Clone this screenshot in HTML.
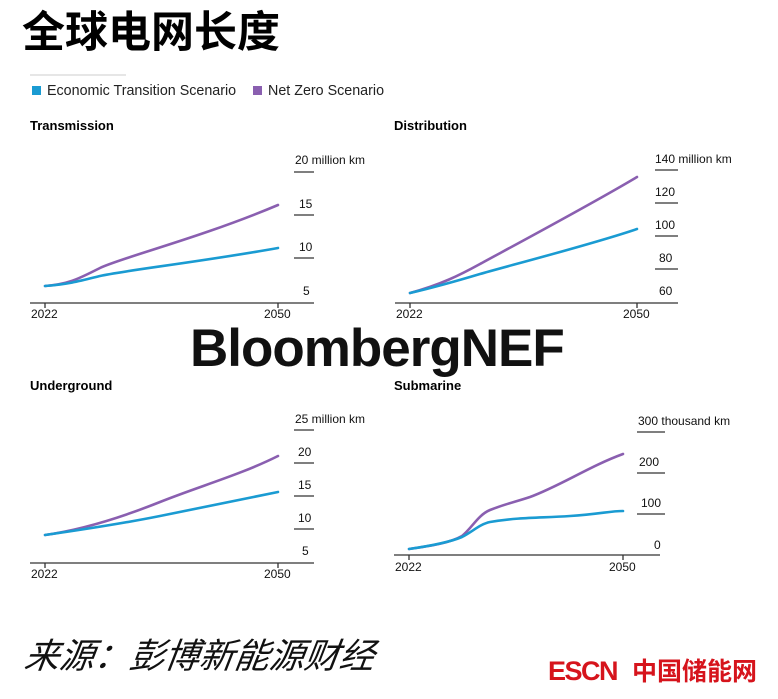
<!DOCTYPE html>
<html><head><meta charset="utf-8"><style>
body{margin:0;width:778px;height:699px;background:#fff;overflow:hidden;position:relative;font-family:"Liberation Sans","Noto Sans CJK SC",sans-serif;}
</style></head><body>
<svg width="778" height="699" style="position:absolute;left:0;top:0" font-family="Liberation Sans, Noto Sans CJK SC, sans-serif">
<text x="22" y="47" font-size="43" font-weight="bold" fill="#000" font-family="Noto Sans CJK SC, sans-serif">全球电网长度</text>
<line x1="30" y1="75" x2="126" y2="75" stroke="#ccc"/>
<rect x="32" y="86" width="9" height="9" fill="#1a9bd2"/>
<text x="47" y="95" font-size="14.3" fill="#222">Economic Transition Scenario</text>
<rect x="253" y="86" width="9" height="9" fill="#8a5fb0"/>
<text x="268" y="95" font-size="14.3" fill="#222">Net Zero Scenario</text>

<g font-size="13" fill="#000">
<text x="30" y="130" font-weight="bold">Transmission</text>
<text x="394" y="130" font-weight="bold">Distribution</text>
<text x="30" y="390" font-weight="bold">Underground</text>
<text x="394" y="390" font-weight="bold">Submarine</text>
</g>

<g stroke="#333" stroke-width="1.3">
<line x1="30" y1="303" x2="314" y2="303"/><line x1="45" y1="303" x2="45" y2="308"/><line x1="278" y1="303" x2="278" y2="308"/>
<line x1="294" y1="172" x2="314" y2="172"/><line x1="294" y1="215" x2="314" y2="215"/><line x1="294" y1="258" x2="314" y2="258"/>
<line x1="395" y1="303" x2="678" y2="303"/><line x1="410" y1="303" x2="410" y2="308"/><line x1="637" y1="303" x2="637" y2="308"/>
<line x1="655" y1="170" x2="678" y2="170"/><line x1="655" y1="203" x2="678" y2="203"/><line x1="655" y1="236" x2="678" y2="236"/><line x1="655" y1="269" x2="678" y2="269"/>
<line x1="30" y1="563" x2="314" y2="563"/><line x1="45" y1="563" x2="45" y2="568"/><line x1="278" y1="563" x2="278" y2="568"/>
<line x1="294" y1="430" x2="314" y2="430"/><line x1="294" y1="463" x2="314" y2="463"/><line x1="294" y1="496" x2="314" y2="496"/><line x1="294" y1="529" x2="314" y2="529"/>
<line x1="394" y1="555" x2="660" y2="555"/><line x1="409" y1="555" x2="409" y2="560"/><line x1="623" y1="555" x2="623" y2="560"/>
<line x1="637" y1="432" x2="665" y2="432"/><line x1="637" y1="473" x2="665" y2="473"/><line x1="637" y1="514" x2="665" y2="514"/>
</g>

<g font-size="12" fill="#111">
<text x="295" y="164">20 million km</text><text x="299" y="208">15</text><text x="299" y="251">10</text><text x="303" y="295">5</text>
<text x="31" y="318">2022</text><text x="264" y="318">2050</text>
<text x="655" y="163">140 million km</text><text x="655" y="196">120</text><text x="655" y="229">100</text><text x="659" y="262">80</text><text x="659" y="295">60</text>
<text x="396" y="318">2022</text><text x="623" y="318">2050</text>
<text x="295" y="423">25 million km</text><text x="298" y="456">20</text><text x="298" y="489">15</text><text x="298" y="522">10</text><text x="302" y="555">5</text>
<text x="31" y="578">2022</text><text x="264" y="578">2050</text>
<text x="638" y="425">300 thousand km</text><text x="639" y="466">200</text><text x="641" y="507">100</text><text x="654" y="549">0</text>
<text x="395" y="571">2022</text><text x="609" y="571">2050</text>
</g>

<g fill="none" stroke-width="2.6" stroke-linejoin="round" stroke-linecap="round">
<path d="M45,286 C70,284 80,278 100,268 S200,238 278,205" stroke="#8a5fb0"/>
<path d="M45,286 C70,284 80,281 100,276 S200,262 278,248" stroke="#1a9bd2"/>
<path d="M410,293 C440,285 460,275 480,264 S590,205 637,177" stroke="#8a5fb0"/>
<path d="M410,293 C440,286 460,280 480,274 S590,245 637,229" stroke="#1a9bd2"/>
<path d="M45,535 C80,530 120,518 160,502 S240,475 278,456" stroke="#8a5fb0"/>
<path d="M45,535 C80,530 120,524 160,516 S240,500 278,492" stroke="#1a9bd2"/>
<path d="M409,549 C430,546 450,543 462,536 C472,528 478,515 490,510 C505,504 515,502 530,497 C560,486 590,466 623,454" stroke="#8a5fb0"/>
<path d="M409,549 C430,546 450,542 462,537 C472,532 480,524 490,522 C520,517 540,518 570,516 S610,511 623,511" stroke="#1a9bd2"/>
</g>

<text x="190" y="366" font-size="53" font-weight="bold" fill="#111" letter-spacing="-1">BloombergNEF</text>
<text x="24" y="668" font-size="35" font-style="italic" fill="#111" font-family="Noto Sans CJK SC, sans-serif" transform="skewX(-8) translate(93,0)">来源：彭博新能源财经</text>
<text x="548" y="680" font-size="27" font-weight="bold" fill="#d6141c" letter-spacing="-1.5">ESCN</text>
<text x="632" y="680" font-size="25" font-weight="bold" fill="#d6141c" font-family="Noto Sans CJK SC, sans-serif">中国储能网</text>
</svg>
</body></html>
